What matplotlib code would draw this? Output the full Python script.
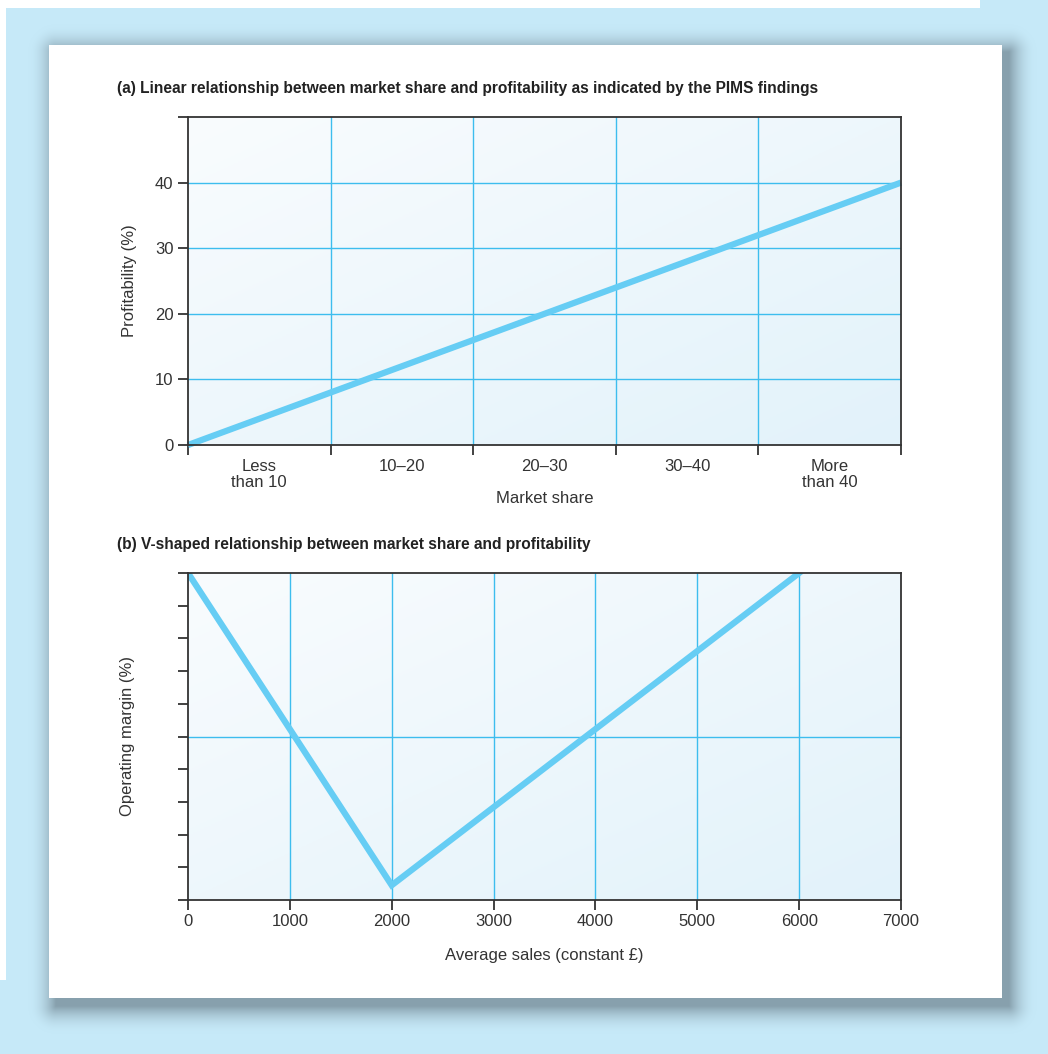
import matplotlib
matplotlib.use("Agg")
import matplotlib.pyplot as plt
import numpy as np
from matplotlib.colors import LinearSegmentedColormap

plt.rcParams['font.family'] = ['Liberation Sans Narrow', 'Liberation Sans', 'DejaVu Sans']

# chart (a) data
categories = ["Less\nthan 10", "10\u201320", "20\u201330", "30\u201340", "More\nthan 40"]
share_pos = [0, 5]          # market share, in category units
profit = [0, 40]            # profitability (%)
profit_ticks = [0, 10, 20, 30, 40]

# chart (b) data
sales = [0, 2000, 6000]
margin = [10, 0.45, 10]
sales_ticks = [0, 1000, 2000, 3000, 4000, 5000, 6000, 7000]

W, H = 1048, 1054
fig = plt.figure(figsize=(W / 100, H / 100), dpi=100)

def fx(px):
    return px / W

def fy(py):
    return 1 - py / H

# page background: light blue, soft shadow, white panel
X, Y = np.meshgrid(np.arange(W) + 0.5, np.arange(H) + 0.5)
dx = np.maximum(np.maximum(56 - X, X - 1009), 0)
dy = np.maximum(np.maximum(52 - Y, Y - 1006), 0)
d = np.hypot(dx, dy)
t = np.clip(1 - d / 28, 0, 1) ** 2
blue = np.array([198, 233, 248]) / 255
shade = np.array([135, 160, 173]) / 255
img = blue * (1 - t[..., None]) + shade * t[..., None]
img[(X >= 49) & (X < 1002) & (Y >= 45) & (Y < 998)] = 1.0
img[((Y < 8) & (X < 980)) | ((X < 6) & (Y < 980))] = 1.0
bg = fig.add_axes([0, 0, 1, 1])
bg.imshow(img, extent=[0, W, H, 0], aspect='auto', interpolation='nearest')
bg.set_axis_off()
bg.set_zorder(-5)

line_col = '#66cdf4'
grid_col = '#3dbdee'
dark = '#333333'
grad = LinearSegmentedColormap.from_list('g', ['#f9fcfe', '#e2f2fa'])
gx, gy = np.meshgrid(np.linspace(0, 1, 200), np.linspace(0, 1, 200))
gz = (gx + gy) / 2

def style(ax):
    for s in ax.spines.values():
        s.set_color(dark)
        s.set_linewidth(1.3)
        s.set_zorder(5)
    ax.tick_params(colors=dark, length=7, width=1.3, labelsize=12, labelcolor='#333333')

# (a)
ax1 = fig.add_axes([fx(188), fy(445), 713 / W, 328 / H])
ax1.imshow(gz, cmap=grad, extent=[0, 5, 0, 50], aspect='auto', origin='upper', zorder=0)
ax1.set_xlim(0, 5)
ax1.set_ylim(0, 50)
for x in range(1, 5):
    ax1.axvline(x, color=grid_col, lw=1, zorder=1)
for y in profit_ticks[1:]:
    ax1.axhline(y, color=grid_col, lw=1, zorder=1)
ax1.plot(share_pos, profit, color=line_col, lw=4.5, solid_capstyle='butt', zorder=3, clip_on=False)
ax1.set_xticks(range(6))
ax1.set_xticklabels([])
ax1.set_xticks(np.arange(5) + 0.5, minor=True)
ax1.set_xticklabels(categories, minor=True, fontsize=12, color=dark, linespacing=1.1)
ax1.set_yticks([0, 10, 20, 30, 40, 50])
ax1.set_yticklabels([str(t) for t in profit_ticks] + [''])
style(ax1)
ax1.tick_params(axis='x', which='minor', length=0, pad=10, labelsize=12)
ax1.set_xlabel('Market share', fontsize=12, color=dark, labelpad=1)
ax1.set_ylabel('Profitability (%)', fontsize=12, color=dark, labelpad=13)
fig.text(fx(117), fy(88), '(a) Linear relationship between market share and profitability as indicated by the PIMS findings',
         fontsize=11.2, fontweight='bold', color='#222222', va='center', ha='left')

# (b)
ax2 = fig.add_axes([fx(188), fy(900), 713 / W, 327 / H])
ax2.imshow(gz, cmap=grad, extent=[0, 7000, 0, 10], aspect='auto', origin='upper', zorder=0)
ax2.set_xlim(0, 7000)
ax2.set_ylim(0, 10)
for x in sales_ticks[1:-1]:
    ax2.axvline(x, color=grid_col, lw=1, zorder=1)
ax2.axhline(5, color=grid_col, lw=1, zorder=1)
ax2.plot(sales, margin, color=line_col, lw=4.5, solid_joinstyle='miter', zorder=3, clip_on=True)
ax2.set_xticks(sales_ticks)
ax2.set_yticks(range(11))
ax2.set_yticklabels([])
style(ax2)
ax2.tick_params(axis='x', pad=3)
ax2.set_xlabel('Average sales (constant \u00a3)', fontsize=12, color=dark, labelpad=14)
ax2.set_ylabel('Operating margin (%)', fontsize=12, color=dark, labelpad=28)
fig.text(fx(117), fy(545), '(b) V-shaped relationship between market share and profitability',
         fontsize=11.2, fontweight='bold', color='#222222', va='center', ha='left')

fig.savefig('out.png', dpi=100)
